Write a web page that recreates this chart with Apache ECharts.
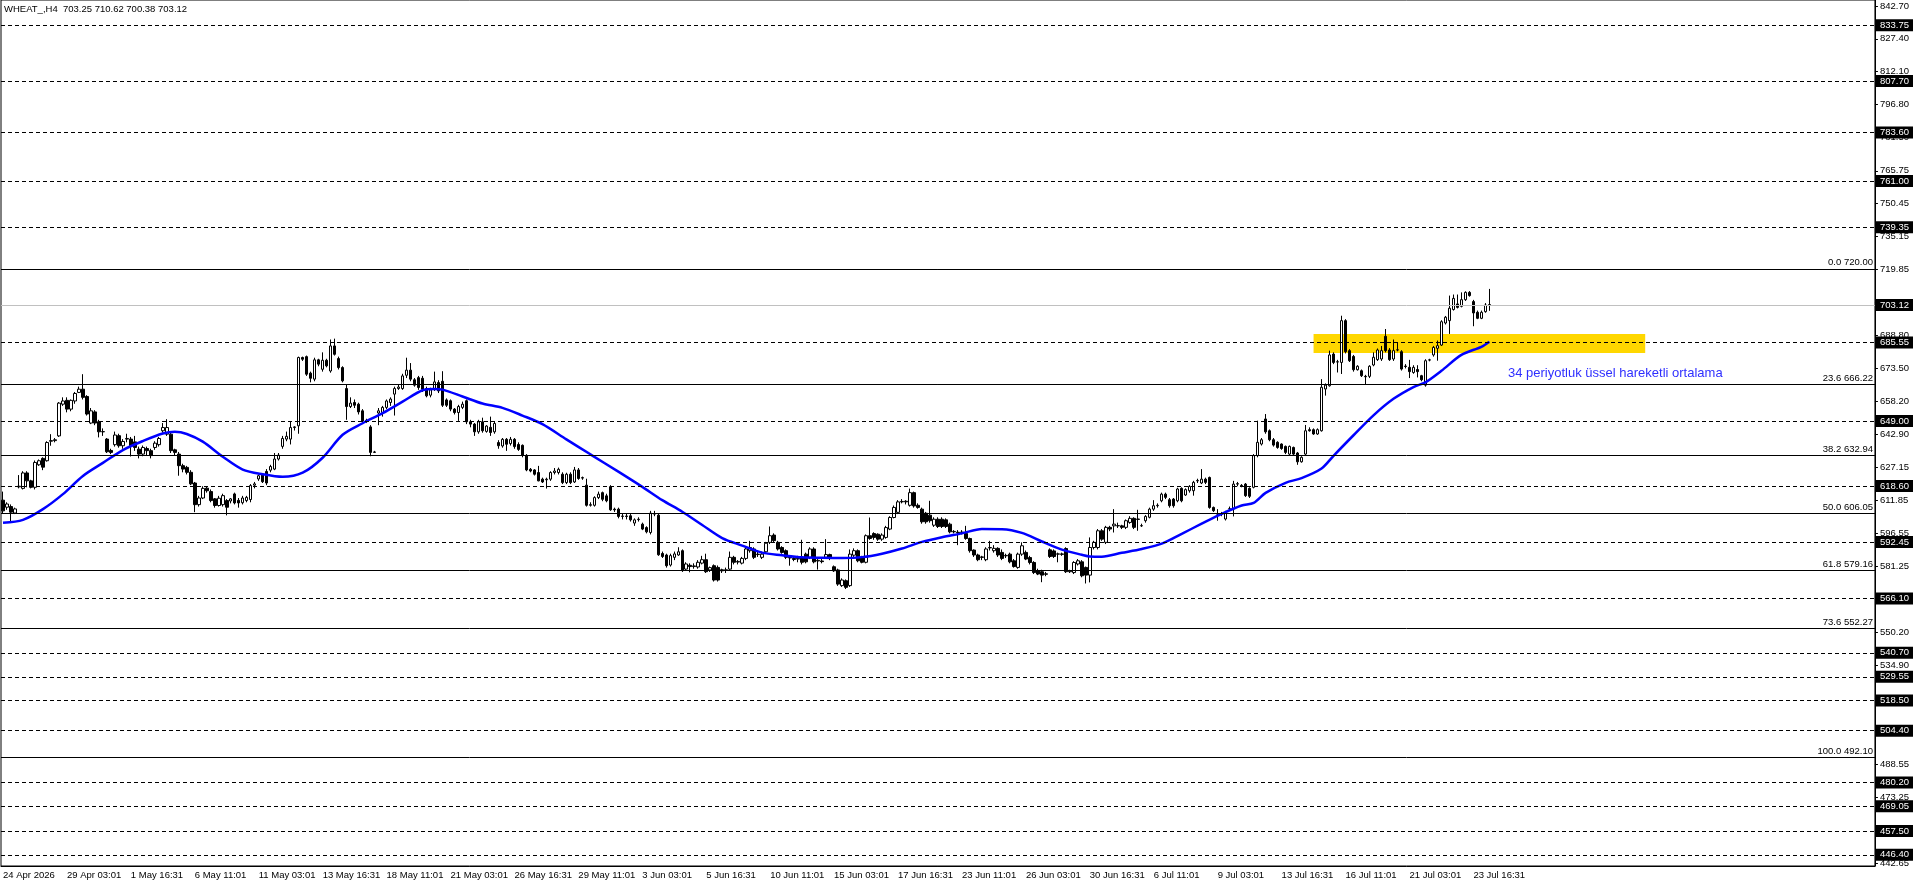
<!DOCTYPE html>
<html>
<head>
<meta charset="utf-8">
<title>WHEAT_,H4</title>
<script src="https://cdn.jsdelivr.net/npm/echarts@6/dist/echarts.min.js"></script>
<style>
  html, body { margin: 0; padding: 0; background: #fff; }
  #chart { width: 1916px; height: 888px; }
</style>
</head>
<body>
<div id="chart"></div>
<script>
// time axis: one label every 16 H4 bars
const tickLabels = [
  '24 Apr 2026', '29 Apr 03:01', '1 May 16:31', '6 May 11:01', '11 May 03:01', '13 May 16:31',
  '18 May 11:01', '21 May 03:01', '26 May 16:31', '29 May 11:01', '3 Jun 03:01', '5 Jun 16:31',
  '10 Jun 11:01', '15 Jun 03:01', '17 Jun 16:31', '23 Jun 11:01', '26 Jun 03:01', '30 Jun 16:31',
  '6 Jul 11:01', '9 Jul 03:01', '13 Jul 16:31', '16 Jul 11:01', '21 Jul 03:01', '23 Jul 16:31'
]
const barStep = 16
const axisSlots = 469 // free space right of the last bar, like the terminal

// [open, close, low, high]
const ohlc = [
  // 0
  [612, 607, 606, 616], [608.7, 610.2, 607.5, 611], [609, 606.4, 602, 610], [606, 607.9, 605.5, 608.5],
  [618.2, 618.5, 617.5, 623.7], [617.5, 624.7, 617, 625.5], [624.7, 621, 618, 625.5], [621, 618, 617.5, 621.5],
  [618, 629.6, 617, 630.5], [628.5, 630.4, 628, 631],
  // 10
  [631.5, 627.4, 626, 632], [630.4, 638.9, 630, 639.5], [639.5, 639.8, 637.4, 642.8], [639.8, 640.2, 639, 641],
  [642, 657.3, 641.5, 657.8], [656.8, 658.3, 656, 660], [658.6, 654.5, 653, 660], [654.5, 658.6, 653.5, 659],
  [658.3, 661.8, 657, 662.5], [662.3, 663.8, 662, 665],
  // 20
  [663.8, 660, 659, 670.8], [660.4, 652.2, 651.5, 661], [648, 653.7, 647.5, 655], [653.2, 648, 647, 654],
  [648.6, 643.9, 641.3, 649.5], [643.9, 644, 642, 645.5], [640.5, 634.6, 634, 641], [635.2, 634.3, 633.5, 636],
  [637.9, 642.4, 637, 644], [642.1, 637.4, 636.5, 643],
  // 30
  [637.4, 639.4, 636, 640.5], [640.5, 640.8, 639, 643], [640.5, 637.4, 632.4, 641.5], [639.2, 636.6, 635, 642],
  [635.8, 633.5, 631.5, 637], [633.5, 636.6, 632.5, 637.5], [636.1, 635.1, 633, 637], [635.1, 632.8, 631.5, 636],
  [636.6, 638.6, 635.5, 639.5], [637.9, 640.8, 637, 641.5],
  // 40
  [644.4, 645.9, 643.5, 648], [642.8, 645.9, 642, 649.8], [642.8, 635.1, 634, 644], [635.5, 634.3, 633, 636],
  [633.5, 628.1, 623.4, 634.5], [628.1, 626.5, 625, 629], [627.3, 625, 624, 628], [625, 619.6, 619, 626],
  [620, 609.9, 606.4, 620.5], [609.9, 613, 609, 614],
  // 50
  [613, 617.5, 612.5, 618.5], [617.6, 616.4, 615.5, 618.5], [616, 611.8, 611, 617], [612.6, 609.5, 608.5, 613],
  [609.5, 612.9, 609, 614], [609.9, 614.1, 609, 615], [611.8, 608.7, 604.9, 612.5], [611.6, 612.6, 610.5, 613],
  [614.9, 610.7, 610, 615.5], [611.9, 610.7, 608.5, 613],
  // 60
  [610.8, 613, 610, 614], [611.8, 613.3, 611, 614], [612.3, 618.8, 611, 619.5], [619, 619.6, 617.5, 620.5],
  [621.9, 623.4, 621, 624], [623.7, 620.6, 620, 624.5], [625.4, 620, 619, 626.5], [626, 627.7, 625, 628.5],
  [626.5, 631.2, 626, 634], [631.2, 633, 630.5, 634],
  // 70
  [637.1, 640.8, 636, 642], [640.5, 641.8, 639.5, 644], [640.5, 645.9, 638, 648.5], [645.9, 646.2, 644.5, 646.5],
  [646.7, 678.6, 643, 679], [678.6, 677.8, 677, 679], [679, 670.8, 670, 679.5], [671.3, 668.9, 667, 672],
  [668.5, 677.5, 667.5, 678.5], [677.5, 675.5, 674.5, 678],
  // 80
  [673.1, 677.3, 672, 681], [677.3, 674.7, 674, 678], [672.3, 684, 671.5, 687], [684, 680.1, 679.5, 687.4],
  [678.1, 673.9, 673, 679], [673.9, 667.7, 667, 674.5], [664.1, 655.7, 649.5, 666], [655.7, 657.3, 655, 660],
  [657.6, 656.3, 655, 659], [656.8, 653.2, 652, 657.5],
  // 90
  [653.7, 649, 648, 654.5], [649, 649.3, 648, 650], [646.2, 634.3, 632.5, 647], [634.3, 634.5, 634, 635],
  [652.7, 653.7, 647, 655], [652.9, 655.3, 651, 656], [655.3, 658.3, 654.5, 659], [657.6, 659.2, 656, 660],
  [661.5, 664.1, 651.5, 665], [664.1, 664.8, 663.5, 666],
  // 100
  [664.1, 670, 663.5, 671], [670.3, 672.7, 669, 678.5], [672.7, 668.5, 667.5, 676], [668.2, 665.7, 665, 669],
  [669.2, 664.6, 663.5, 670], [668.9, 663.8, 662.5, 670], [664.1, 660.7, 660, 665], [661, 663.5, 660, 664.5],
  [664.1, 667.2, 663, 672], [666.9, 663, 662, 668],
  // 110
  [667.5, 656.3, 655.5, 672.2], [658.8, 656.3, 655.5, 659.5], [658.4, 654.5, 653.5, 659], [654.5, 652.9, 652, 655],
  [652.9, 655.7, 649, 656.5], [655.3, 656.8, 654.5, 658], [658.4, 648.6, 647.5, 659], [648.6, 647.5, 646, 649.5],
  [647.5, 643.9, 642, 648], [643.9, 648.6, 643, 649.5],
  // 120
  [648.6, 644.4, 643.5, 650.5], [644.1, 646.6, 643.5, 647], [646, 643.6, 642, 651], [643.9, 647.8, 643, 648.5],
  [638.9, 637.4, 636, 640], [637.3, 640.4, 636.5, 641], [640.4, 638.1, 635, 641], [638.4, 640.4, 637.5, 641.5],
  [640.4, 637, 636, 641], [638, 635.7, 635, 639],
  // 130
  [637.6, 632.9, 632, 638], [632.9, 626.1, 625.5, 633.5], [626.4, 625.6, 625, 627], [626.1, 624.1, 623.5, 626.5],
  [624.9, 621, 620.8, 628], [621.8, 620.5, 620, 622.5], [621.5, 621.8, 617.4, 622.5], [621.8, 624.9, 621, 625.5],
  [624.9, 625.6, 624, 627], [624.9, 626.4, 624, 627.2],
  // 140
  [624.1, 620.2, 619.5, 625], [620.2, 624.1, 619.5, 624.8], [624.1, 620.2, 619.5, 625], [620.5, 626.1, 620, 627.5],
  [626.1, 622.1, 621.5, 627], [622.5, 622.3, 621.5, 623], [619, 609.6, 609, 622], [609.6, 609.9, 609, 611],
  [609.6, 613.2, 609, 613.8], [613.2, 614.8, 612.5, 616],
  // 150
  [615.5, 612.4, 611.5, 616], [614, 611.7, 611, 615], [618.3, 607.5, 607, 619], [607.8, 607.5, 606.5, 608.5],
  [607.8, 604.4, 603.5, 608.5], [604.4, 604.6, 603, 606], [604.6, 604.4, 603, 606], [604.7, 602.8, 602, 605.5],
  [601.3, 602.8, 600, 603.5], [602.9, 603.1, 602, 604],
  // 160
  [600.8, 598.5, 598, 601.5], [599.2, 597.2, 596.5, 599.8], [596.9, 605.9, 596, 607], [605.5, 605.7, 604.5, 607],
  [605, 586.5, 586, 606], [587.1, 585.7, 585, 588], [586.4, 581.4, 580.5, 587], [581.7, 586.1, 581, 587],
  [585.3, 586.9, 584, 588], [586.4, 587.9, 586, 590],
  // 170
  [588.4, 579.1, 578.5, 589], [579.8, 582.2, 579, 583], [581.6, 581, 578.3, 582.5], [581, 581.3, 580, 582.5],
  [580.8, 583, 580, 584], [582.6, 584.2, 582, 586], [584.2, 578.6, 578, 587], [579.4, 580.5, 578.5, 581],
  [581.4, 574.7, 574, 582], [580.6, 574.7, 574, 581.5],
  // 180
  [579.5, 579, 578, 580], [579.2, 579.5, 578, 580.5], [579.8, 585.3, 579, 588], [585.3, 583, 582, 586],
  [583.1, 583.4, 582, 584], [582.6, 584.8, 582, 585.5], [584.8, 589.2, 584, 590], [588.4, 589.9, 587.5, 593],
  [589.2, 585.3, 584.5, 590], [586.6, 586.8, 585.5, 588],
  // 190
  [585.3, 586.8, 584.5, 588], [587.9, 591.9, 587, 592.5], [592.3, 595.4, 591.5, 599.7], [595.7, 593.1, 592, 596.5],
  [592.3, 589.2, 588.5, 593], [589.9, 587.6, 587, 590.5], [588.4, 585.3, 584.5, 589], [585.3, 585, 581.4, 586],
  [584.8, 584.3, 583.5, 585.5], [584.5, 584.8, 583, 586],
  // 200
  [585.3, 583, 582, 593.5], [586.8, 583.2, 582.5, 587.5], [585.3, 589.2, 584.5, 590], [589.2, 583.2, 582.5, 590],
  [583.6, 583.9, 579.6, 584.5], [583.6, 583.3, 582.5, 584.5], [585.3, 586.6, 585, 593.8], [586.6, 584.8, 584, 587],
  [580.9, 579, 578.5, 581.5], [579.4, 572.8, 572, 580],
  // 210
  [572.1, 574.7, 571.5, 575.5], [574.4, 571.3, 570.5, 575], [572.1, 586.8, 571.5, 589], [586.3, 588.4, 585.5, 589.5],
  [588.4, 583.7, 583, 589], [585.3, 583, 582.5, 586], [583, 595.4, 582.5, 596], [595.4, 594.1, 593.5, 603.9],
  [596.4, 594.6, 593.5, 597], [596.1, 593.8, 593, 596.5],
  // 220
  [593.8, 595.7, 593, 596.5], [594.6, 599.2, 594, 600], [598.5, 603.9, 598, 604.5], [603.9, 608.6, 603.5, 609.5],
  [606.3, 611.2, 605.5, 612], [611.2, 611.4, 610.5, 612.5], [611.5, 611.2, 610, 612], [609.6, 615.5, 609, 617.4],
  [615.5, 609.3, 608.5, 616], [609.6, 608.6, 608, 610.5],
  // 230
  [607.8, 601.9, 601, 608.5], [605.9, 601.9, 601, 606.5], [605, 602.4, 601.5, 611.7], [600.3, 603.1, 599.5, 604],
  [603.1, 599.7, 599, 604], [603.1, 599.7, 599, 604], [602.8, 599.7, 599, 603.5], [600.8, 597.2, 596.5, 601.5],
  [597.2, 597.4, 596.5, 598], [597, 596.7, 591, 598],
  // 240
  [596.9, 597.1, 596, 598], [596.4, 594.1, 593.5, 600], [594.1, 588.4, 587.5, 594.5], [588.7, 586.4, 585.5, 589],
  [586.4, 584.2, 583.5, 587], [585.5, 585.3, 584, 586], [584.2, 589.2, 583.5, 590], [589.7, 589.9, 588.5, 593],
  [588.4, 589.5, 587.5, 591], [589.5, 586.4, 585.5, 590],
  // 250
  [587.6, 584.8, 584, 589], [586, 586.2, 585, 587], [586.8, 583.2, 582.5, 587.5], [583.7, 581, 580.5, 584.5],
  [580.6, 586.8, 580, 587.5], [586.8, 590.7, 586, 592.3], [587.6, 584.5, 584, 588.5], [585.2, 582.9, 582, 586],
  [582.9, 578.2, 577.5, 583.5], [579, 577.5, 577, 580],
  // 260
  [578.6, 577, 573.7, 579.5], [577.6, 577.4, 576.5, 578.5], [588.8, 585.7, 585, 589.5], [588.3, 585.7, 585, 589],
  [586.8, 586.9, 583, 587.5], [586.9, 586.7, 586, 587.5], [589.4, 578.6, 578, 590], [578.6, 579, 578, 579.5],
  [578.2, 582.9, 577.5, 583.5], [582.2, 583.7, 581.5, 584.5],
  // 270
  [583.2, 576.7, 576, 584], [580.6, 577, 573.1, 581], [577, 589.9, 573.6, 594.6], [589.9, 592.3, 589, 593],
  [589.9, 597.7, 589, 598.5], [597.7, 593.8, 593, 598.5], [592.3, 599.3, 591.5, 600], [599.3, 598.5, 597.5, 600],
  [600, 600.8, 596.9, 607.8], [600.1, 600, 599, 601.5],
  // 280
  [600, 599.3, 598.5, 600.5], [599.3, 602.4, 598.5, 603], [601.6, 603.5, 601, 604.5], [603.5, 599.3, 598.5, 604],
  [603, 603.2, 597.7, 607.5], [600.1, 600, 599.5, 601], [602.4, 604.4, 601.5, 605], [604, 607.8, 603.5, 608.5],
  [607.8, 609.4, 607, 612], [609.4, 609.6, 608.5, 610.5],
  // 290
  [611.7, 614.8, 611, 615.5], [614.8, 613.3, 612.5, 615.5], [612.2, 609.4, 608.5, 613], [612.5, 609.4, 608.5, 613],
  [611.7, 617.2, 611, 617.8], [617.5, 611.7, 611, 618], [614.4, 616.9, 614, 617.5], [616.4, 618.4, 615.5, 619],
  [616.4, 620.3, 614.1, 621], [621, 621.2, 620, 622],
  // 300
  [620, 621.8, 619.5, 626.5], [621.8, 620.3, 619.5, 622.5], [622.6, 608.6, 608, 623], [608.6, 607.1, 606.5, 609],
  [605.6, 605.5, 602.4, 607.8], [605.5, 605.7, 604.5, 606.5], [603.2, 606.3, 602.5, 607], [607.9, 608, 607, 609],
  [607.9, 619.5, 604.4, 621], [619.5, 619.7, 618.5, 620.5],
  // 310
  [618.9, 618.7, 618, 619.5], [619.5, 614.1, 613.5, 620], [617.5, 613.8, 613, 618], [618, 632.8, 617.5, 633.5],
  [632.8, 639, 632, 649.1], [638.2, 640.2, 637.5, 641], [649.9, 643.9, 643, 652.2], [644.4, 640.2, 639.5, 645],
  [640.2, 637.7, 637, 641], [639, 636.6, 636, 639.5],
  // 320
  [638.2, 636.1, 635.5, 638.5], [637.1, 634.3, 633.5, 637.5], [633.5, 637.1, 633, 637.5], [636.6, 633.5, 633, 637],
  [634, 629.9, 628.5, 634.5], [629.9, 632, 629.5, 632.5], [633.5, 644.4, 633, 647.1], [644.9, 644.4, 644, 646],
  [644.9, 642.9, 642.5, 645.5], [642.9, 644.9, 642.5, 645.5],
  // 330
  [644.4, 664.7, 644, 668.5], [663.9, 665.7, 660.8, 666.5], [665.4, 679.8, 665, 681.8], [680.2, 676.3, 675.5, 681],
  [676.5, 676.6, 671.6, 677.5], [676.3, 695.8, 670.9, 698.1], [695.8, 681.3, 680.5, 696.5], [681.8, 677.1, 676.5, 682.5],
  [679.1, 672.9, 672, 679.8], [672.9, 674.5, 672.5, 675],
  // 340
  [672.4, 670.1, 669.5, 673], [669.8, 669.6, 666.2, 670.5], [669.8, 674.5, 669, 675], [675.1, 678.7, 674.5, 681],
  [677.6, 682.1, 677, 682.8], [677.9, 681.8, 677, 684], [688.5, 681.8, 681, 691.9], [682.1, 677.6, 677, 683],
  [677.9, 681.8, 677, 687], [682.1, 682.2, 681.5, 685.5],
  // 350
  [681.3, 673.2, 672.5, 682], [674.6, 674.4, 673.5, 675.5], [674, 672, 669, 677.5], [671.6, 674, 671, 675],
  [673, 672, 669.3, 675], [670.1, 668.2, 667.5, 670.5], [665.7, 677.1, 665, 677.8], [677.4, 677.5, 676.8, 678],
  [679.8, 683.3, 679, 684], [682.9, 684.1, 677.1, 686.5],
  // 360
  [684.4, 695.3, 684, 696], [694.7, 697.4, 694, 698], [695.8, 701.6, 689.6, 707.5], [701, 706.2, 700.5, 708],
  [703.6, 702, 701.5, 708], [702.5, 705.6, 702, 709], [705.6, 709, 705, 709.5], [709, 707.5, 707, 709.6],
  [704.7, 699.4, 693.2, 705.5], [699.7, 696.9, 696.5, 700.5],
  // 370
  [696.9, 699.7, 696.5, 700.5], [700, 703.1, 699.5, 704], [703.25, 703.12, 700.38, 710.62]
]

// 34-period EMA at [bar, price]
const emaPoints = [
  [0, 601.4], [5, 602.8], [10, 607.8], [15, 614.8], [20, 623.3], [25, 629.4], [30, 635.4], [35, 639.6],
  [40, 643.1], [43, 643.9], [46, 642.9], [50, 639.3], [55, 632.3], [60, 626.3], [65, 624.1], [70, 622.9],
  [75, 624.8], [80, 631.8], [85, 642.5], [90, 647.9], [95, 652.6], [100, 658.0], [105, 663.3], [108, 663.9],
  [110, 663.6], [115, 660.4], [120, 657.1], [125, 655.1], [130, 651.5], [135, 647.5], [141, 640.4], [147, 633.4],
  [154, 625.3], [160, 618.2], [165, 612.0], [170, 606.6], [175, 600.4], [180, 594.3], [185, 590.8], [190, 587.5],
  [195, 586.3], [200, 585.3], [205, 585.1], [210, 585.0], [215, 585.4], [220, 587.0], [225, 589.4], [230, 592.5],
  [235, 594.7], [240, 596.5], [245, 598.5], [250, 598.4], [255, 596.7], [260, 592.7], [265, 588.9], [270, 586.5],
  [272, 585.7], [275, 585.6], [280, 587.4], [285, 589.2], [290, 591.7], [295, 596.3], [300, 601.0], [305, 605.6],
  [310, 609.5], [313, 610.7], [316, 615.4], [321, 620.1], [325, 622.3], [330, 626.8], [333, 632.7], [338, 642.3],
  [343, 651.6], [348, 659.3], [353, 664.8], [356, 667.0], [360, 672.4], [365, 679.8], [370, 683.6], [372, 686.0]
]

// price scale
const priceTicks = [
  842.70, 827.40, 812.10, 796.80, 781.50, 765.75, 750.45, 735.15, 719.85, 704.55, 688.80, 673.50, 658.20,
  642.90, 627.15, 611.85, 596.55, 581.25, 565.95, 550.20, 534.90, 519.60, 504.30, 488.55, 473.25, 457.95, 442.65
]
const levelPrices = [
  833.75, 807.70, 783.60, 761.00, 739.35, 685.55, 649.00, 618.60, 592.45, 566.10,
  540.70, 529.55, 518.50, 504.40, 480.20, 469.05, 457.50, 446.40
]
const bidPrice = 703.12
const fibRatios = ['0.0', '23.6', '38.2', '50.0', '61.8', '73.6', '100.0']
const fibPrices = [720.00, 666.22, 632.94, 606.05, 579.16, 552.27, 492.10]
const zoneBars = [328, 411]
const zonePrices = [689.6, 680.7]

const symbolName = 'WHEAT_,H4'
const emaNote = '34 periyotluk üssel hareketli ortalama'

const yMin = 441.2
const yMax = 845.5
const font = 'Liberation Sans, Arial, sans-serif'
const last = ohlc[ohlc.length - 1]
const header = `${symbolName}  ${last[0].toFixed(2)} ${last[3].toFixed(2)} ${last[2].toFixed(2)} ${last[1].toFixed(2)}`

const slots = Array.from({ length: axisSlots }, (_, i) => String(i))
const isTick = (i) => i % barStep === 0 && i / barStep < tickLabels.length

const chart = echarts.init(document.getElementById('chart'))

const option = {
  animation: false,
  backgroundColor: '#fff',
  grid: { left: 1, right: 40, top: 0, bottom: 22, show: true, borderColor: '#000', borderWidth: 1 },
  xAxis: {
    type: 'category',
    data: slots,
    boundaryGap: true,
    axisLine: { lineStyle: { color: '#000', width: 1 } },
    axisTick: { alignWithLabel: true, length: 4, interval: isTick, lineStyle: { color: '#000' } },
    axisLabel: {
      interval: isTick,
      formatter: (v, i) => tickLabels[i / barStep] || '',
      align: 'left',
      margin: 4,
      fontFamily: font,
      fontSize: 9.5,
      color: '#000',
    },
    splitLine: { show: false },
  },
  yAxis: [
    {
      type: 'value',
      position: 'right',
      min: yMin,
      max: yMax,
      axisLine: { show: true, lineStyle: { color: '#000' } },
      axisTick: { show: true, length: 3, customValues: priceTicks, lineStyle: { color: '#000' } },
      axisLabel: {
        customValues: priceTicks,
        formatter: (v) => v.toFixed(2),
        margin: 5,
        fontFamily: font,
        fontSize: 9.5,
        color: '#000',
      },
      splitLine: { show: false },
    },
    {
      type: 'value',
      position: 'right',
      min: yMin,
      max: yMax,
      axisLine: { show: false },
      axisTick: { show: false },
      axisLabel: {
        customValues: levelPrices.concat([bidPrice]),
        formatter: (v) => v.toFixed(2),
        margin: 1,
        fontFamily: font,
        fontSize: 9.5,
        lineHeight: 10,
        color: '#fff',
        backgroundColor: '#000',
        padding: [1, 4, 1, 4],
      },
      splitLine: { show: false },
    },
  ],
  series: [
    {
      type: 'candlestick',
      data: ohlc,
      barWidth: 3,
      z: 3,
      itemStyle: {
        color: '#fff',
        color0: '#000',
        borderColor: '#000',
        borderColor0: '#000',
        borderWidth: 1,
      },
      markLine: {
        silent: true,
        symbol: ['none', 'none'],
        animation: false,
        label: { show: false },
        data: [
          ...levelPrices.map((p) => ({
            yAxis: p,
            lineStyle: { color: '#000', width: 1, type: [4, 3] },
          })),
          {
            yAxis: bidPrice,
            lineStyle: { color: '#c0c0c0', width: 1, type: 'solid' },
          },
          ...fibPrices.map((p, k) => ({
            yAxis: p,
            lineStyle: { color: '#000', width: 1, type: 'solid' },
            label: {
              show: true,
              position: 'insideEndTop',
              distance: [2, 1],
              formatter: `${fibRatios[k]} ${p.toFixed(2)}`,
              fontFamily: font,
              fontSize: 9.5,
              color: '#000',
            },
          })),
        ],
      },
    },
    {
      type: 'line',
      name: 'EMA 34',
      data: emaPoints,
      smooth: 0.3,
      showSymbol: false,
      z: 4,
      lineStyle: { color: '#0000ff', width: 2.5 },
      markArea: {
        silent: true,
        itemStyle: { color: '#ffd700' },
        data: [[
          { xAxis: zoneBars[0], yAxis: zonePrices[0] },
          { xAxis: zoneBars[1], yAxis: zonePrices[1] },
        ]],
      },
    },
  ],
  graphic: [
    {
      type: 'text',
      left: 4,
      top: 4,
      style: { text: header, fill: '#000', font: `9.5px ${font}` },
    },
    {
      type: 'text',
      x: 1508,
      y: 373,
      style: { text: emaNote, fill: '#2f2fff', font: `13px ${font}`, verticalAlign: 'middle' },
    },
  ],
}

chart.setOption(option)
</script>
</body>
</html>
